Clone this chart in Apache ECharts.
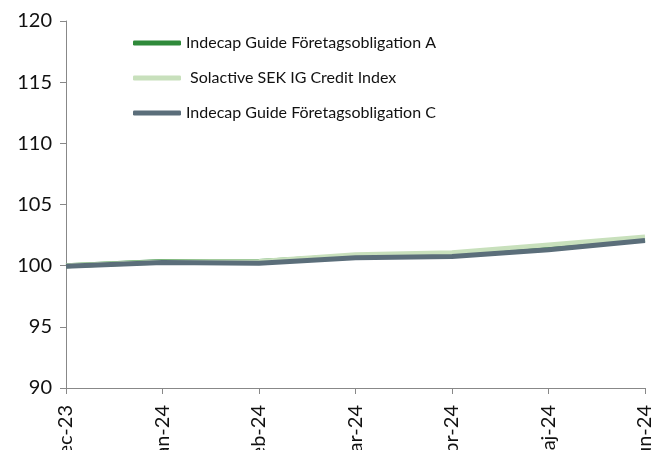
<!DOCTYPE html>
<html lang="sv" style="height: 100%">
<head>
  <meta charset="utf-8">
</head>
<body style="height: 100%; margin: 0; background: #fff">
  <div id="container" style="width: 654px; height: 450px"></div>

  <script type="text/javascript" src="https://cdn.jsdelivr.net/npm/echarts@6/dist/echarts.min.js"></script>

  <script type="text/javascript">
    // data
    var months = ['dec-23', 'jan-24', 'feb-24', 'mar-24', 'apr-24', 'maj-24', 'jun-24'];
    var fondA = [100.0, 100.35, 100.35, 100.8, 100.9, 101.5, 102.15];
    var solactive = [100.0, 100.3, 100.35, 100.9, 101.05, 101.7, 102.35];
    var fondC = [99.95, 100.25, 100.2, 100.65, 100.75, 101.3, 102.05];
    var yTicks = { min: 90, max: 120, step: 5 };

    var font = 'Lato';
    var dom = document.getElementById('container');
    var myChart = echarts.init(dom, null, { renderer: 'canvas' });

    var option = {
      animation: false,
      grid: { left: 66, right: 9, top: 21, bottom: 62, outerBoundsMode: 'none', containLabel: false },
      legend: {
        orient: 'vertical',
        left: 133,
        top: 35,
        padding: 0,
        itemWidth: 48,
        itemHeight: 5,
        itemGap: 19,
        icon: 'roundRect',
        textStyle: { fontFamily: font, fontSize: 16, color: '#111' },
        data: ['Indecap Guide Företagsobligation A', ' Solactive SEK IG Credit Index', 'Indecap Guide Företagsobligation C']
      },
      xAxis: {
        type: 'category',
        data: months,
        boundaryGap: false,
        axisLine: { lineStyle: { color: '#888' } },
        axisTick: { length: 6, lineStyle: { color: '#888' } },
        axisLabel: { rotate: 90, interval: 0, margin: 17, fontFamily: font, fontSize: 20, color: '#111' },
        splitLine: { show: false }
      },
      yAxis: {
        type: 'value',
        min: yTicks.min,
        max: yTicks.max,
        interval: yTicks.step,
        axisLine: { show: true, lineStyle: { color: '#888' } },
        axisTick: { show: true, length: 6, lineStyle: { color: '#888' } },
        axisLabel: { margin: 14, fontFamily: font, fontSize: 20, color: '#111' },
        splitLine: { show: false }
      },
      series: [
        {
          name: 'Indecap Guide Företagsobligation A',
          type: 'line',
          symbol: 'none',
          data: fondA,
          itemStyle: { color: '#2f8a3a' },
          lineStyle: { width: 5, color: '#2f8a3a' }
        },
        {
          name: ' Solactive SEK IG Credit Index',
          type: 'line',
          symbol: 'none',
          data: solactive,
          itemStyle: { color: '#c8e0bc' },
          lineStyle: { width: 5, color: '#c8e0bc' }
        },
        {
          name: 'Indecap Guide Företagsobligation C',
          type: 'line',
          symbol: 'none',
          data: fondC,
          itemStyle: { color: '#5b6e7a' },
          lineStyle: { width: 5, color: '#5b6e7a' }
        }
      ]
    };

    myChart.setOption(option);
    window.addEventListener('resize', myChart.resize);
  </script>
</body>
</html>
